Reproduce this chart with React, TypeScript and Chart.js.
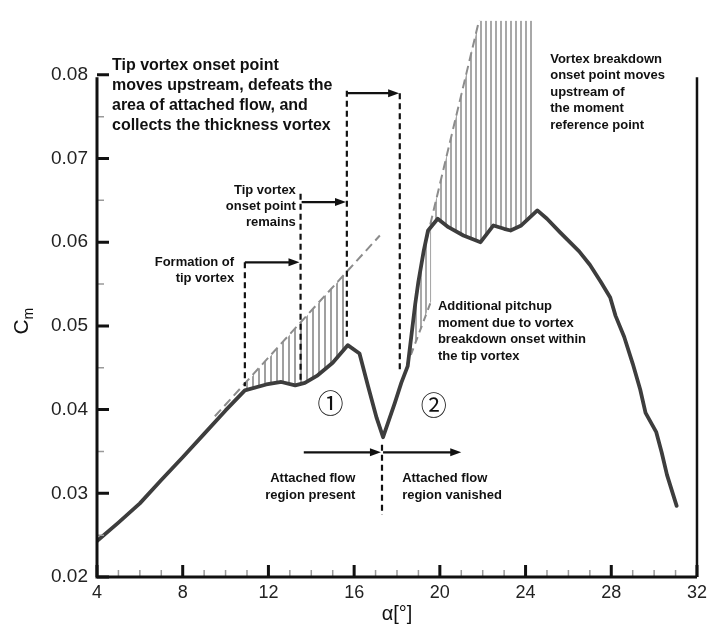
import React, { useEffect, useRef } from "react";
import { Chart, registerables } from "chart.js";

Chart.register(...registerables);

// ---- data ----
const curveAlpha = [4, 5, 6, 7, 8, 9, 10, 10.9, 11.9, 12.6, 13.25, 13.7, 14.3, 15.0, 15.7, 16.25, 16.65, 17.05, 17.35, 17.9, 18.2, 18.5, 18.85, 19.0, 19.25, 19.45, 19.9, 20.4, 21.1, 21.9, 22.5, 23.0, 23.3, 23.8, 24.55, 25.0, 25.6, 26.5, 27.0, 27.5, 27.95, 28.2, 28.6, 29.0, 29.35, 29.6, 30.1, 30.35, 30.6, 31.05];
const curveCm = [0.0243, 0.0265, 0.0288, 0.0316, 0.0343, 0.0371, 0.0399, 0.0423, 0.0430, 0.0433, 0.0429, 0.0432, 0.0441, 0.0456, 0.0477, 0.0467, 0.0428, 0.0390, 0.0367, 0.0408, 0.0432, 0.0452, 0.0526, 0.0553, 0.0590, 0.0614, 0.0628, 0.0618, 0.0608, 0.0600, 0.0620, 0.0616, 0.0614, 0.0620, 0.0638, 0.0628, 0.0612, 0.0589, 0.0573, 0.0553, 0.0534, 0.0512, 0.0487, 0.0455, 0.0424, 0.0396, 0.0373, 0.0349, 0.0322, 0.0285];

// dashed gray guide lines
const guide1Alpha = [9.5, 17.2];
const guide1Cm = [0.0392, 0.0608];
const guide2Alpha = [19.4, 21.84];
const guide2Cm = [0.0605, 0.0866];
const guide3Alpha = [18.45, 19.6];
const guide3Cm = [0.0452, 0.053];

// upper bounds of hatched regions
const hatch1Alpha = [10.9, 15.7];
const hatch1Cm = [0.043, 0.0566];
const hatch2Alpha = [19.45, 21.84, 24.4];
const hatch2Cm = [0.0612, 0.0866, 0.0866];

// axis ticks
const xTicks = [4, 8, 12, 16, 20, 24, 28, 32];
const xMinorTicks = [5, 6, 7, 9, 10, 11, 13, 14, 15, 17, 18, 19, 21, 22, 23, 25, 26, 27, 29, 30, 31];
const yTicks = [0.02, 0.03, 0.04, 0.05, 0.06, 0.07, 0.08];
const yMinorTicks = [0.025, 0.035, 0.045, 0.055, 0.065, 0.075];

// annotation dotted vertical lines: alpha, bottom Cm, top Cm
const vLineAlpha = [10.9, 13.5, 15.66, 18.13, 17.3];
const vLineBottom = [0.0428, 0.0432, 0.0483, 0.0445, 0.0274];
const vLineTop = [0.0576, 0.0658, 0.0781, 0.0778, 0.0358];

// arrows: from alpha, to alpha, at Cm
const arrowFrom = [10.9, 13.55, 15.7, 13.65, 17.35];
const arrowTo = [13.45, 15.62, 18.1, 17.25, 21.0];
const arrowCm = [0.0576, 0.0648, 0.0778, 0.0349, 0.0349];

// text notes
const noteLines = [
  ["Tip vortex onset point", "moves upstream, defeats the", "area of attached flow, and", "collects the thickness vortex"],
  ["Tip vortex", "onset point", "remains"],
  ["Formation of", "tip vortex"],
  ["Vortex breakdown", "onset point moves", "upstream of", "the moment", "reference point"],
  ["Additional pitchup", "moment due to vortex", "breakdown onset within", "the tip vortex"],
  ["Attached flow", "region present"],
  ["Attached flow", "region vanished"],
];
const noteAlpha = [4.7, 13.28, 10.4, 25.15, 19.91, 16.06, 18.24];
const noteCm = [0.08106, 0.06624, 0.05753, 0.08188, 0.05235, 0.03176, 0.03176];
const noteAlign = ["left", "right", "right", "left", "left", "right", "left"];
const noteSize = [16, 13, 13, 13, 13, 13, 13];
const noteLineHeight = [20, 16, 16, 16.5, 16.7, 17, 17];

const circleLabels = ["①", "②"];
const circleAlpha = [14.9, 19.72];
const circleCm = [0.0408, 0.0405];

const xTitle = "α[°]";
const yTitleMain = "C";
const yTitleSub = "m";

const SANS = '"Liberation Sans", Arial, Helvetica, sans-serif';

function pts(xs: number[], ys: number[]) {
  return xs.map((x, i) => ({ x, y: ys[i] }));
}

function makeHatch(ctx: CanvasRenderingContext2D, spacing: number, lineW: number, color: string) {
  const c = document.createElement("canvas");
  c.width = spacing;
  c.height = 4;
  const g = c.getContext("2d")!;
  g.fillStyle = color;
  g.fillRect(0, 0, lineW, 4);
  return ctx.createPattern(c, "repeat")!;
}

const decorPlugin = {
  id: "decor",
  afterDatasetsDraw(chart: any) {
    const { ctx, scales, chartArea } = chart;
    const xs = scales.x;
    const ys = scales.y;
    const px = (a: number) => xs.getPixelForValue(a);
    const py = (v: number) => ys.getPixelForValue(v);
    const L = chartArea.left;
    const R = chartArea.right;
    const B = chartArea.bottom;
    ctx.save();

    // minor ticks
    ctx.strokeStyle = "#9a9a9a";
    ctx.lineWidth = 1.5;
    ctx.beginPath();
    yMinorTicks.forEach((v) => {
      ctx.moveTo(L, py(v));
      ctx.lineTo(L + 7, py(v));
    });
    xMinorTicks.forEach((a) => {
      ctx.moveTo(px(a), B);
      ctx.lineTo(px(a), B - 7);
    });
    ctx.stroke();

    // major ticks
    ctx.strokeStyle = "#111";
    ctx.lineWidth = 3;
    ctx.beginPath();
    yTicks.forEach((v) => {
      ctx.moveTo(L, py(v));
      ctx.lineTo(L + 12, py(v));
    });
    xTicks.forEach((a) => {
      ctx.moveTo(px(a), B);
      ctx.lineTo(px(a), B - 12);
    });
    ctx.stroke();

    // axis lines
    const topV = py(0.0797);
    ctx.lineWidth = 3;
    ctx.beginPath();
    ctx.moveTo(L, topV);
    ctx.lineTo(L, B);
    ctx.lineTo(R, B);
    ctx.stroke();
    ctx.lineWidth = 2.5;
    ctx.beginPath();
    ctx.moveTo(R, topV);
    ctx.lineTo(R, B);
    ctx.stroke();

    // dotted vertical annotation lines
    ctx.strokeStyle = "#111";
    ctx.lineWidth = 2.2;
    ctx.setLineDash([6, 4]);
    ctx.beginPath();
    vLineAlpha.forEach((a, i) => {
      ctx.moveTo(px(a), py(vLineTop[i]));
      ctx.lineTo(px(a), py(vLineBottom[i]));
    });
    ctx.stroke();
    ctx.setLineDash([]);

    // arrows
    ctx.fillStyle = "#111";
    ctx.lineWidth = 2.2;
    arrowFrom.forEach((a0, i) => {
      const x0 = px(a0);
      const x1 = px(arrowTo[i]);
      const yy = py(arrowCm[i]);
      const hl = 11;
      ctx.beginPath();
      ctx.moveTo(x0, yy);
      ctx.lineTo(x1 - hl + 1, yy);
      ctx.stroke();
      ctx.beginPath();
      ctx.moveTo(x1, yy);
      ctx.lineTo(x1 - hl, yy - 4);
      ctx.lineTo(x1 - hl, yy + 4);
      ctx.closePath();
      ctx.fill();
    });

    // notes
    ctx.fillStyle = "#111";
    ctx.textBaseline = "middle";
    noteLines.forEach((lines, i) => {
      ctx.font = `bold ${noteSize[i]}px ${SANS}`;
      ctx.textAlign = noteAlign[i] as CanvasTextAlign;
      const x0 = px(noteAlpha[i]);
      const y0 = py(noteCm[i]);
      lines.forEach((t, j) => ctx.fillText(t, x0, y0 + j * noteLineHeight[i]));
    });

    // circled numbers
    ctx.font = `26px "Noto Sans CJK JP", "DejaVu Sans", sans-serif`;
    ctx.textAlign = "center";
    circleLabels.forEach((t, i) => ctx.fillText(t, px(circleAlpha[i]), py(circleCm[i])));

    // axis titles
    ctx.fillStyle = "#111";
    ctx.font = `20px ${SANS}`;
    ctx.textAlign = "center";
    ctx.fillText(xTitle, (L + R) / 2, 614);

    ctx.save();
    ctx.translate(22, (py(0.08) + B) / 2 + 4);
    ctx.rotate(-Math.PI / 2);
    ctx.font = `21px ${SANS}`;
    ctx.textAlign = "center";
    ctx.fillText(yTitleMain, 3, 0);
    ctx.font = `14px ${SANS}`;
    ctx.textAlign = "left";
    ctx.fillText(yTitleSub, 10.5, 7);
    ctx.restore();

    ctx.restore();
  },
};

export default function App() {
  const ref = useRef<HTMLCanvasElement | null>(null);

  useEffect(() => {
    const canvas = ref.current!;
    const ctx = canvas.getContext("2d")!;
    const hatchA = makeHatch(ctx, 6, 2, "#a0a0a0");
    const hatchB = makeHatch(ctx, 5, 2, "#a8a8a8");

    const chart = new Chart(canvas, {
      type: "line",
      data: {
        datasets: [
          {
            data: pts(curveAlpha, curveCm),
            borderColor: "#3d3d3d",
            borderWidth: 3.8,
            pointRadius: 0,
            fill: false,
            borderJoinStyle: "round",
            borderCapStyle: "round",
          },
          {
            data: pts(guide1Alpha, guide1Cm),
            borderColor: "#8c8c8c",
            borderWidth: 2,
            borderDash: [9, 5],
            pointRadius: 0,
            fill: false,
          },
          {
            data: pts(guide2Alpha, guide2Cm),
            borderColor: "#8c8c8c",
            borderWidth: 2,
            borderDash: [9, 5],
            pointRadius: 0,
            fill: false,
          },
          {
            data: pts(guide3Alpha, guide3Cm),
            borderColor: "#8c8c8c",
            borderWidth: 2,
            borderDash: [7, 5],
            pointRadius: 0,
            fill: { target: 0, above: "rgba(0,0,0,0)", below: hatchB },
          },
          {
            data: pts(hatch1Alpha, hatch1Cm),
            borderColor: "rgba(0,0,0,0)",
            borderWidth: 0,
            pointRadius: 0,
            fill: { target: 0, above: hatchA, below: "rgba(0,0,0,0)" },
          },
          {
            data: pts(hatch2Alpha, hatch2Cm),
            borderColor: "rgba(0,0,0,0)",
            borderWidth: 0,
            pointRadius: 0,
            fill: { target: 0, above: hatchB, below: "rgba(0,0,0,0)" },
          },
        ],
      },
      options: {
        animation: false,
        responsive: false,
        maintainAspectRatio: false,
        layout: { padding: { left: 0, right: 12, top: 12, bottom: 0 } },
        plugins: {
          legend: { display: false },
          tooltip: { enabled: false },
        },
        scales: {
          x: {
            type: "linear",
            min: 4,
            max: 32,
            grid: { display: false, drawTicks: false },
            border: { display: false },
            ticks: {
              stepSize: 4,
              padding: 5,
              color: "#222",
              font: { family: SANS, size: 18 },
              callback: (v: any) => String(v),
            },
            afterFit: (s: any) => {
              s.height = 51;
            },
          },
          y: {
            type: "linear",
            min: 0.02,
            max: 0.0865,
            grid: { display: false, drawTicks: false },
            border: { display: false },
            ticks: {
              padding: 9,
              color: "#222",
              font: { family: SANS, size: 19 },
              callback: (v: any) => Number(v).toFixed(2),
            },
            afterBuildTicks: (s: any) => {
              s.ticks = yTicks.map((v) => ({ value: v }));
            },
            afterFit: (s: any) => {
              s.width = 97;
            },
          },
        },
      },
      plugins: [decorPlugin],
    });
    return () => chart.destroy();
  }, []);

  return (
    <div style={{ position: "absolute", left: 0, top: 0, width: 712, height: 628, background: "#fff" }}>
      <canvas ref={ref} width={712} height={628} style={{ display: "block", width: 712, height: 628 }} />
    </div>
  );
}
